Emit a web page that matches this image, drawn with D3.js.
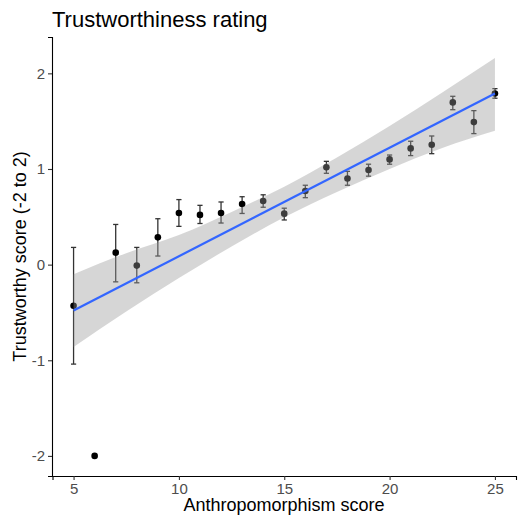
<!DOCTYPE html>
<html>
<head>
<meta charset="utf-8">
<script src="https://cdn.jsdelivr.net/npm/d3@7"></script>
<style>
  body { margin: 0; background: #fff; }
  text { font-family: "Liberation Sans", Arial, sans-serif; }
</style>
</head>
<body>
<svg id="chart"></svg>
<script>
// data
const scores = [5, 6, 7, 8, 9, 10, 11, 12, 13, 14, 15, 16, 17, 18, 19, 20, 21, 22, 23, 24, 25]
const means  = [-0.43, -2, 0.125, -0.01, 0.285, 0.54, 0.52, 0.54, 0.634, 0.665, 0.533, 0.77, 1.017, 0.90, 0.99, 1.10, 1.215, 1.254, 1.696, 1.49, 1.79]
const lowers = [-1.04, null, -0.18, -0.19, 0.09, 0.40, 0.43, 0.435, 0.535, 0.60, 0.467, 0.70, 0.955, 0.83, 0.925, 1.05, 1.14, 1.16, 1.62, 1.37, 1.74]
const uppers = [0.18, null, 0.42, 0.18, 0.48, 0.68, 0.62, 0.655, 0.71, 0.73, 0.59, 0.83, 1.08, 0.975, 1.05, 1.146, 1.29, 1.345, 1.76, 1.61, 1.84]

// fitted line + confidence band
const fitX    = [5, 25]
const fitY    = [-0.48, 1.79]
const bandX   = [5, 7.5, 10, 12.5, 15, 17.5, 20, 22.5, 25]
const bandLow = [-0.86, -0.49, -0.14, 0.19, 0.495, 0.76, 1.00, 1.22, 1.40]
const bandHigh = [-0.10, 0.12, 0.31, 0.55, 0.815, 1.12, 1.45, 1.80, 2.16]

const xTicks = [5, 10, 15, 20, 25]
const yTicks = [-2, -1, 0, 1, 2]

const width = 527
const height = 518
const margin = { top: 37, right: 11, bottom: 42, left: 52 }

const svg = d3.select("#chart")
  .attr("width", width)
  .attr("height", height)

const xScale = d3.scaleLinear()
  .domain([4, 26])
  .range([margin.left + 0.5, width - margin.right])

const yScale = d3.scaleLinear()
  .domain([-2.21, 2.38])
  .range([height - margin.bottom, margin.top])

const points = scores.map((s, i) => ({ x: s, y: means[i], lo: lowers[i], hi: uppers[i] }))

// error bars
const bars = svg.append("g")
  .attr("stroke", "#333333")
  .attr("stroke-width", 1.3)

points.filter(d => d.lo != null).forEach(d => {
  const cx = xScale(d.x)
  bars.append("line")
    .attr("x1", cx).attr("x2", cx)
    .attr("y1", yScale(d.lo)).attr("y2", yScale(d.hi))
  bars.append("line")
    .attr("x1", cx - 2.6).attr("x2", cx + 2.6)
    .attr("y1", yScale(d.lo)).attr("y2", yScale(d.lo))
  bars.append("line")
    .attr("x1", cx - 2.6).attr("x2", cx + 2.6)
    .attr("y1", yScale(d.hi)).attr("y2", yScale(d.hi))
})

// points
svg.append("g")
  .selectAll("circle")
  .data(points)
  .join("circle")
  .attr("cx", d => xScale(d.x))
  .attr("cy", d => yScale(d.y))
  .attr("r", 3.3)
  .attr("fill", "black")

// ribbon
const band = bandX.map((x, i) => ({ x, lo: bandLow[i], hi: bandHigh[i] }))
const area = d3.area()
  .x(d => xScale(d.x))
  .y0(d => yScale(d.lo))
  .y1(d => yScale(d.hi))
  .curve(d3.curveNatural)

svg.append("path")
  .datum(band)
  .attr("d", area)
  .attr("fill", "#999999")
  .attr("fill-opacity", 0.4)

// regression line
const line = d3.line()
  .x(d => xScale(d[0]))
  .y(d => yScale(d[1]))

svg.append("path")
  .datum(fitX.map((x, i) => [x, fitY[i]]))
  .attr("d", line)
  .attr("fill", "none")
  .attr("stroke", "#3366FF")
  .attr("stroke-width", 2.2)

// axes
const xAxis = svg.append("g")
  .attr("transform", `translate(0, ${height - margin.bottom})`)
  .call(d3.axisBottom(xScale).tickValues(xTicks).tickFormat(d => String(d))
    .tickSizeOuter(0).tickSize(4).tickPadding(3))

const yAxis = svg.append("g")
  .attr("transform", `translate(${margin.left}, 0)`)
  .call(d3.axisLeft(yScale).tickValues(yTicks).tickFormat(d => String(d))
    .tickSizeOuter(0).tickSize(4).tickPadding(3))

;[xAxis, yAxis].forEach(ax => {
  ax.select(".domain").attr("stroke", "black").attr("stroke-width", 1.1)
  ax.selectAll(".tick line").attr("stroke", "#333333").attr("stroke-width", 1.1)
  ax.selectAll(".tick text")
    .attr("fill", "#4d4d4d")
    .style("font-size", "15px")
    .style("font-family", "Liberation Sans, Arial, sans-serif")
})

// titles
svg.append("text")
  .attr("x", 52)
  .attr("y", 27)
  .style("font-size", "22px")
  .attr("fill", "black")
  .text("Trustworthiness rating")

svg.append("text")
  .attr("x", (margin.left + width - margin.right) / 2)
  .attr("y", 511)
  .attr("text-anchor", "middle")
  .style("font-size", "18px")
  .attr("fill", "black")
  .text("Anthropomorphism score")

svg.append("text")
  .attr("transform", `translate(26, ${(margin.top + height - margin.bottom) / 2}) rotate(-90)`)
  .attr("text-anchor", "middle")
  .style("font-size", "18px")
  .attr("fill", "black")
  .text("Trustworthy score (-2 to 2)")
</script>
</body>
</html>
